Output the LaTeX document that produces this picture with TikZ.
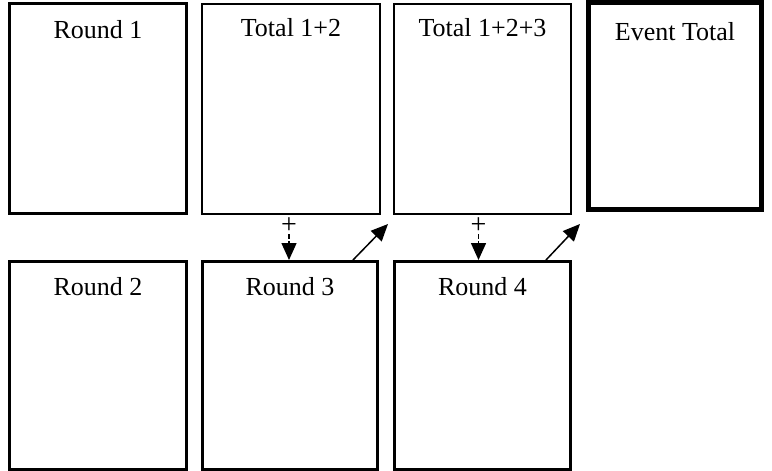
\documentclass[tikz,border=0pt]{standalone}
\usepackage{fontspec}
\setmainfont{Liberation Serif}
\usetikzlibrary{arrows.meta}
\begin{document}
\begin{tikzpicture}[x=1pt,y=-1pt,
  box/.style={draw, rectangle, inner sep=0pt, line width=3pt},
  thinbox/.style={box, line width=2pt},
  heavybox/.style={box, line width=5pt},
  lbl/.style={font=\fontsize{26}{30}\selectfont, anchor=base, inner sep=0pt},
  plusmark/.style={font=\fontsize{28}{32}\selectfont, anchor=center, inner sep=0pt},
  plusarrow/.style={line width=1.5pt, dash pattern=on 5pt off 2pt, -{Triangle[length=17pt,width=15pt]}},
  diag/.style={line width=1.5pt, -{Triangle[length=17pt,width=15pt]}}]
\useasboundingbox (0,0) rectangle (772,471);
% top row
\node[box, minimum width=177pt, minimum height=210pt] (r1) at (98,108.5) {};
\node[thinbox, minimum width=178.5pt, minimum height=210.6pt] (t12) at (291,109) {};
\node[thinbox, minimum width=177.6pt, minimum height=210.6pt] (t123) at (482.5,109) {};
\node[heavybox, minimum width=173pt, minimum height=207pt] (ev) at (675,106) {};
% bottom row
\node[box, minimum width=177pt, minimum height=208pt] (r2) at (98,365.5) {};
\node[box, minimum width=175pt, minimum height=208pt] (r3) at (290,365.5) {};
\node[box, minimum width=176pt, minimum height=208pt] (r4) at (482.5,365.5) {};
% labels
\node[lbl] (lr1) at (98,38) {Round 1};
\node[lbl] (lt12) at (291,36) {Total 1+2};
\node[lbl] (lt123) at (482.5,36) {Total 1+2+3};
\node[lbl] (lev) at (675,40) {Event Total};
\node[lbl] (lr2) at (98,295) {Round 2};
\node[lbl] (lr3) at (290,295) {Round 3};
\node[lbl] (lr4) at (482.5,295) {Round 4};
% plus arrows
\node[plusmark] (p1) at (289,226) {+};
\node[plusmark] (p2) at (478.5,226) {+};
\draw[plusarrow] (p1.south) -- (p1.south |- r3.north);
\draw[plusarrow] (p2.south) -- (p2.south |- r4.north);
% diagonal arrows
\coordinate (d1s) at (353,260);
\coordinate (d1e) at (388,224);
\coordinate (d2s) at (546,260);
\coordinate (d2e) at (580,224);
\draw[diag] (d1s) -- (d1e);
\draw[diag] (d2s) -- (d2e);
\end{tikzpicture}
\end{document}
